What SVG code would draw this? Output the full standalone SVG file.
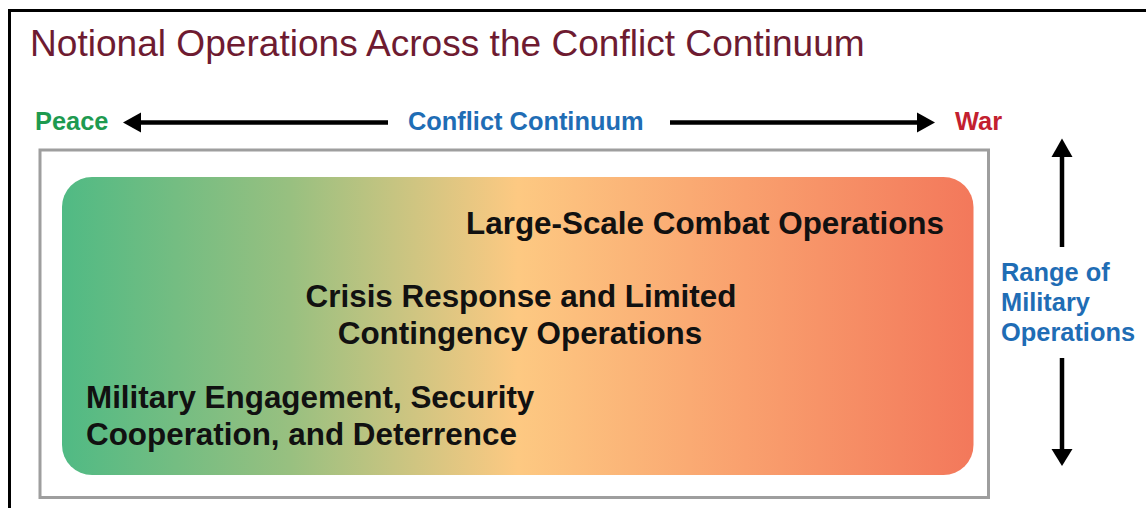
<svg xmlns="http://www.w3.org/2000/svg" width="1146" height="508" viewBox="0 0 1146 508">
<style>
.b{font-family:"Liberation Sans",Arial,sans-serif;font-weight:bold}
.big{font-size:31.4px;fill:#111}
.lab{font-size:25.4px}
.blue{fill:#1f6db5}
.ln{stroke:#000;stroke-width:4.5;fill:none}
.hd{fill:#000}
</style>
<defs>
<linearGradient id="grad" x1="0" y1="0" x2="1" y2="0">
<stop offset="0" stop-color="#50ba84"/>
<stop offset="0.25" stop-color="#98c080"/>
<stop offset="0.5" stop-color="#fdc982"/>
<stop offset="0.75" stop-color="#f9a06e"/>
<stop offset="1" stop-color="#f3785b"/>
</linearGradient>
</defs>
<rect width="1146" height="508" fill="#fff"/>
<path d="M9.5,508 V10.5 H1146" stroke="#000" stroke-width="3" fill="none"/>
<text x="30" y="56" font-family="Liberation Sans, Arial, sans-serif" font-size="37.1" fill="#6e1b31">Notional Operations Across the Conflict Continuum</text>

<g id="frame">
<rect x="40" y="150" width="948.5" height="347.5" fill="#fff" stroke="#9e9e9e" stroke-width="3"/>
</g>
<g id="band">
<rect x="62" y="177" width="911.5" height="298" rx="30" ry="30" fill="url(#grad)"/>
</g>
<g id="lsco">
<text class="b big" x="944" y="234" text-anchor="end">Large-Scale Combat Operations</text>
</g>
<g id="crisis">
<text class="b big" x="521" y="307" text-anchor="middle">Crisis Response and Limited</text>
<text class="b big" x="520" y="344" text-anchor="middle">Contingency Operations</text>
</g>
<g id="engagement">
<text class="b big" x="86" y="408">Military Engagement, Security</text>
<text class="b big" x="86" y="445">Cooperation, and Deterrence</text>
</g>

<g id="peace"><text class="b lab" x="35" y="130" fill="#1e9a50">Peace</text></g>
<g id="continuum"><text class="b lab blue" x="408" y="130">Conflict Continuum</text></g>
<g id="war"><text class="b lab" x="955" y="130" fill="#c3202f">War</text></g>
<g id="range">
<text class="b lab blue" x="1001" y="281">Range of</text>
<text class="b lab blue" x="1001" y="311">Military</text>
<text class="b lab blue" x="1001" y="341">Operations</text>
</g>

<g id="connectors">
<line class="ln" x1="139" y1="122.5" x2="388" y2="122.5"/>
<polygon class="hd" points="123,122.5 141,112.5 141,132.5"/>
<line class="ln" x1="670" y1="122.5" x2="919" y2="122.5"/>
<polygon class="hd" points="935,122.5 917,112.5 917,132.5"/>
<line class="ln" x1="1062" y1="155" x2="1062" y2="247"/>
<polygon class="hd" points="1062,138.5 1051.5,157 1072.5,157"/>
<line class="ln" x1="1062" y1="358" x2="1062" y2="451"/>
<polygon class="hd" points="1062,466 1051.5,449 1072.5,449"/>
</g>
</svg>
